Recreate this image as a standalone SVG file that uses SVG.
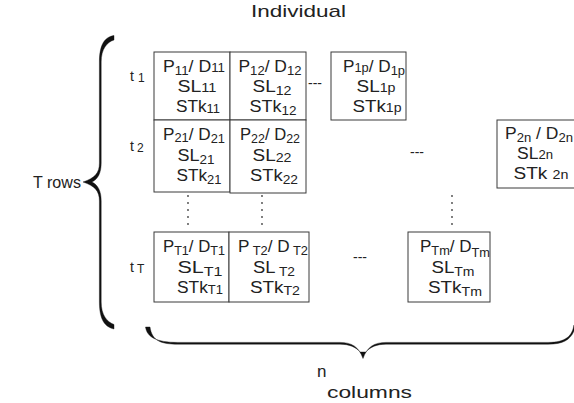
<svg xmlns="http://www.w3.org/2000/svg" width="574" height="403" viewBox="0 0 574 403">
<style>
text{font-family:"Liberation Sans",Arial,sans-serif;fill:#222}
.c{font-size:16px;text-anchor:middle}
.s{font-size:12px}
.lab{font-size:17px}
.t{font-size:14px}
.box{fill:#fff;stroke:#3a3a3a;stroke-width:1}
.dot{fill:#444}
.brace{fill:#111;stroke:#111;stroke-width:0.4}
</style>
<rect width="574" height="403" fill="#fff"/>
<text class="lab" x="251" y="17" textLength="95" lengthAdjust="spacingAndGlyphs">Individual</text>
<text class="lab" x="33" y="188" textLength="48" lengthAdjust="spacingAndGlyphs">T rows</text>
<text class="lab" x="317" y="377">n</text>
<text class="lab" x="327" y="398" textLength="85" lengthAdjust="spacingAndGlyphs">columns</text>
<g id="rowlabels">
<text class="t" x="130" y="81">t<tspan class="s" dx="4" dy="1">1</tspan></text>
<text class="t" x="130" y="151">t<tspan class="s" dx="3" dy="1">2</tspan></text>
<text class="t" x="130" y="272">t<tspan class="s" dx="3" dy="1">T</tspan></text>
</g>
<g id="connectors">
<path class="brace" d="M114,35.5 C105,37 99.4,44 99.4,62 L99.4,163 C99.4,173 95,178 83,182 C95,186 99.4,191 99.4,201 L99.4,302 C99.4,320 105,327 114,329 L114,324.5 C107,322 101.2,315 101.2,302 L101.2,201 C101.2,191 98,185 92,182 C98,179 101.2,173 101.2,163 L101.2,62 C101.2,49 107,42 114,40 Z"/>
<path class="brace" d="M145.5,327 C147,337 156,342.4 178,342.4 L340,342.4 C352,342.4 359,347 363,358.5 C367,347 374,342.4 386,342.4 L548,342.4 C566,342.4 572,336 574,325 L574,331 C570,340 563,344.2 548,344.2 L386,344.2 C377,344.2 370,347 366,352 L360,352 C356,347 349,344.2 340,344.2 L178,344.2 C161,344.2 152,341 150,327 Z"/>
<g id="dots">
<circle class="dot" cx="188" cy="196" r="0.9"/><circle class="dot" cx="188" cy="203" r="0.9"/><circle class="dot" cx="188" cy="210" r="0.9"/><circle class="dot" cx="188" cy="217" r="0.9"/><circle class="dot" cx="188" cy="224" r="0.9"/>
<circle class="dot" cx="262" cy="196" r="0.9"/><circle class="dot" cx="262" cy="203" r="0.9"/><circle class="dot" cx="262" cy="210" r="0.9"/><circle class="dot" cx="262" cy="217" r="0.9"/><circle class="dot" cx="262" cy="224" r="0.9"/>
<circle class="dot" cx="452" cy="196" r="0.9"/><circle class="dot" cx="452" cy="203" r="0.9"/><circle class="dot" cx="452" cy="210" r="0.9"/><circle class="dot" cx="452" cy="217" r="0.9"/><circle class="dot" cx="452" cy="224" r="0.9"/>
</g>
<text class="t" x="308" y="88">---</text>
<text class="t" x="410" y="157">---</text>
<text class="t" x="353" y="262">---</text>
</g>
<g id="cell-11">
<rect class="box" x="154" y="52" width="76" height="68"/>
<text class="c" x="194" y="72" textLength="62" lengthAdjust="spacingAndGlyphs">P<tspan class="s" dy="3">11</tspan><tspan dy="-3">/ D</tspan><tspan class="s">11</tspan></text>
<text class="c" x="197" y="92" textLength="39" lengthAdjust="spacingAndGlyphs">SL<tspan class="s">11</tspan></text>
<text class="c" x="198" y="112" textLength="44" lengthAdjust="spacingAndGlyphs">STk<tspan class="s" dy="1">11</tspan></text>
</g>
<g id="cell-12">
<rect class="box" x="230" y="52" width="76" height="68"/>
<text class="c" x="270" y="72" textLength="63" lengthAdjust="spacingAndGlyphs">P<tspan class="s" dy="3">12</tspan><tspan dy="-3">/ D</tspan><tspan class="s" dy="3">12</tspan></text>
<text class="c" x="272" y="92" textLength="39" lengthAdjust="spacingAndGlyphs">SL<tspan class="s" dy="3">12</tspan></text>
<text class="c" x="273" y="112" textLength="47" lengthAdjust="spacingAndGlyphs">STk<tspan class="s" dy="3">12</tspan></text>
</g>
<g id="cell-1p">
<rect class="box" x="331" y="52" width="75" height="68"/>
<text class="c" x="374" y="72" textLength="62" lengthAdjust="spacingAndGlyphs">P<tspan class="s">1p</tspan>/ D<tspan class="s" dy="3">1p</tspan></text>
<text class="c" x="376" y="92" textLength="39" lengthAdjust="spacingAndGlyphs">SL<tspan class="s">1p</tspan></text>
<text class="c" x="377" y="112" textLength="49" lengthAdjust="spacingAndGlyphs">STk<tspan class="s">1p</tspan></text>
</g>
<g id="cell-21">
<rect class="box" x="154" y="120" width="76" height="72"/>
<text class="c" x="194" y="140" textLength="62" lengthAdjust="spacingAndGlyphs">P<tspan class="s" dy="2">21</tspan><tspan dy="-2">/ D</tspan><tspan class="s" dy="3">21</tspan></text>
<text class="c" x="196" y="161" textLength="37" lengthAdjust="spacingAndGlyphs">SL<tspan class="s" dy="3">21</tspan></text>
<text class="c" x="199" y="181" textLength="45" lengthAdjust="spacingAndGlyphs">STk<tspan class="s" dy="3">21</tspan></text>
</g>
<g id="cell-22">
<rect class="box" x="230" y="120" width="76" height="73"/>
<text class="c" x="270" y="140" textLength="60" lengthAdjust="spacingAndGlyphs">P<tspan class="s" dy="3">22</tspan><tspan dy="-3">/ D</tspan><tspan class="s" dy="3">22</tspan></text>
<text class="c" x="272" y="161" textLength="39" lengthAdjust="spacingAndGlyphs">SL<tspan class="s" dy="1">22</tspan></text>
<text class="c" x="274" y="181" textLength="48" lengthAdjust="spacingAndGlyphs">STk<tspan class="s" dy="3">22</tspan></text>
</g>
<g id="cell-2n">
<rect class="box" x="497" y="120" width="80" height="68"/>
<text class="c" x="539" y="139" textLength="68" lengthAdjust="spacingAndGlyphs">P<tspan class="s" dy="3">2n</tspan><tspan dy="-3"> / D</tspan><tspan class="s" dy="3">2n</tspan></text>
<text class="c" x="535" y="159" textLength="36" lengthAdjust="spacingAndGlyphs">SL<tspan class="s">2n</tspan></text>
<text class="c" x="541" y="179" textLength="55" lengthAdjust="spacingAndGlyphs">STk <tspan class="s">2n</tspan></text>
</g>
<g id="cell-T1">
<rect class="box" x="154" y="232" width="75" height="70"/>
<text class="c" x="194" y="252" textLength="62" lengthAdjust="spacingAndGlyphs">P<tspan class="s" dy="3">T1</tspan><tspan dy="-3">/ D</tspan><tspan class="s" dy="3">T1</tspan></text>
<text class="c" x="200" y="273" textLength="45" lengthAdjust="spacingAndGlyphs">SL<tspan class="s" dy="3">T1</tspan></text>
<text class="c" x="200" y="293" textLength="46" lengthAdjust="spacingAndGlyphs">STk<tspan class="s" dy="1">T1</tspan></text>
</g>
<g id="cell-T2">
<rect class="box" x="229" y="232" width="80" height="70"/>
<text class="c" x="273" y="252" textLength="70" lengthAdjust="spacingAndGlyphs">P<tspan class="s" dy="3"> T2</tspan><tspan dy="-3">/ D</tspan><tspan class="s" dy="3"> T2</tspan></text>
<text class="c" x="274" y="273" textLength="42" lengthAdjust="spacingAndGlyphs">SL<tspan class="s" dy="3"> T2</tspan></text>
<text class="c" x="275" y="293" textLength="50" lengthAdjust="spacingAndGlyphs">STk<tspan class="s" dy="2">T2</tspan></text>
</g>
<g id="cell-Tm">
<rect class="box" x="408" y="232" width="82" height="70"/>
<text class="c" x="455" y="252" textLength="70" lengthAdjust="spacingAndGlyphs">P<tspan class="s" dy="3">Tm</tspan><tspan dy="-3">/ D</tspan><tspan class="s" dy="5">Tm</tspan></text>
<text class="c" x="453" y="273" textLength="43" lengthAdjust="spacingAndGlyphs">SL<tspan class="s" dy="3">Tm</tspan></text>
<text class="c" x="455" y="293" textLength="54" lengthAdjust="spacingAndGlyphs">STk<tspan class="s" dy="3">Tm</tspan></text>
</g>
</svg>
